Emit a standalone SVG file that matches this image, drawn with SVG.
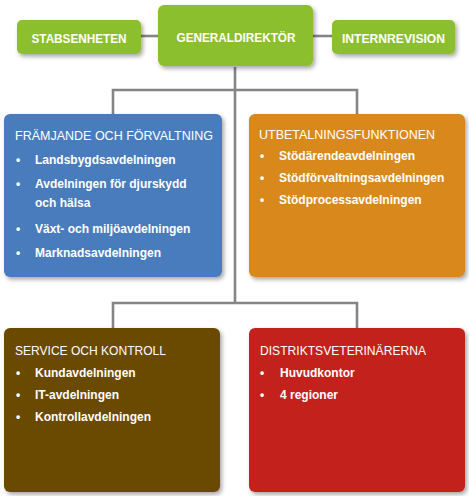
<svg xmlns="http://www.w3.org/2000/svg" width="469" height="496" viewBox="0 0 469 496">
<defs>
<filter id="sh" x="-10%" y="-10%" width="125%" height="130%">
<feDropShadow dx="2" dy="2.5" stdDeviation="2" flood-color="#000" flood-opacity="0.35"/>
</filter>
<style>
.box{filter:url(#sh);}
.lbl{font-family:"Liberation Sans",Arial,sans-serif;font-weight:bold;fill:#fff;font-size:13px;}
.ttl{font-family:"Liberation Sans",Arial,sans-serif;fill:#fff;font-size:13px;}
.itm{font-family:"Liberation Sans",Arial,sans-serif;font-weight:bold;fill:#fff;font-size:12px;}
.con{stroke:#858585;stroke-width:2.6;fill:none;}
</style>
</defs>
<rect width="469" height="496" fill="#fff"/>
<g id="connectors">
<line class="con" x1="141" y1="36" x2="158" y2="36"/>
<line class="con" x1="313" y1="36" x2="332" y2="36"/>
<polyline class="con" points="235,67 235,303"/>
<polyline class="con" points="113,114 113,90 357,90 357,114"/>
<polyline class="con" points="113,328 113,303 357,303 357,328"/>
</g>
<g id="stabsenheten">
<rect class="box" x="17" y="20" width="124" height="34" rx="5" fill="#8cbf2e"/>
<text class="lbl" x="79" y="43" text-anchor="middle" textLength="95" lengthAdjust="spacingAndGlyphs">STABSENHETEN</text>
</g>
<g id="generaldirektor">
<rect class="box" x="158" y="5" width="155" height="61" rx="6" fill="#8cbf2e"/>
<text class="lbl" x="236" y="42" text-anchor="middle" textLength="119" lengthAdjust="spacingAndGlyphs">GENERALDIREKTÖR</text>
</g>
<g id="internrevision">
<rect class="box" x="332" y="20" width="123" height="34" rx="5" fill="#8cbf2e"/>
<text class="lbl" x="393.5" y="43" text-anchor="middle" textLength="103" lengthAdjust="spacingAndGlyphs">INTERNREVISION</text>
</g>
<g id="framjande">
<rect class="box" x="4" y="114" width="218" height="163" rx="6" fill="#4a7bbd"/>
<text class="ttl" x="15" y="140" textLength="198" lengthAdjust="spacingAndGlyphs">FRÄMJANDE OCH FÖRVALTNING</text>
<g class="itm">
<text x="16" y="164">•</text><text x="35" y="164">Landsbygdsavdelningen</text>
<text x="16" y="188">•</text><text x="35" y="188">Avdelningen för djurskydd</text>
<text x="35" y="207">och hälsa</text>
<text x="16" y="233">•</text><text x="35" y="233">Växt- och miljöavdelningen</text>
<text x="16" y="256.5">•</text><text x="35" y="256.5">Marknadsavdelningen</text>
</g>
</g>
<g id="utbetalning">
<rect class="box" x="249" y="114" width="216" height="163" rx="6" fill="#d9891b"/>
<text class="ttl" x="259" y="138.5" textLength="176" lengthAdjust="spacingAndGlyphs">UTBETALNINGSFUNKTIONEN</text>
<g class="itm">
<text x="260" y="160">•</text><text x="279" y="160">Stödärendeavdelningen</text>
<text x="260" y="182">•</text><text x="279" y="182">Stödförvaltningsavdelningen</text>
<text x="260" y="204">•</text><text x="279" y="204">Stödprocessavdelningen</text>
</g>
</g>
<g id="service">
<rect class="box" x="4" y="328" width="216" height="164" rx="6" fill="#6b4806"/>
<text class="ttl" x="15" y="355" textLength="151" lengthAdjust="spacingAndGlyphs">SERVICE OCH KONTROLL</text>
<g class="itm">
<text x="16" y="377">•</text><text x="35" y="377">Kundavdelningen</text>
<text x="16" y="399">•</text><text x="35" y="399">IT-avdelningen</text>
<text x="16" y="420.5">•</text><text x="35" y="420.5">Kontrollavdelningen</text>
</g>
</g>
<g id="distrikt">
<rect class="box" x="249" y="328" width="216" height="164" rx="6" fill="#c3221a"/>
<text class="ttl" x="260" y="355" textLength="166" lengthAdjust="spacingAndGlyphs">DISTRIKTSVETERINÄRERNA</text>
<g class="itm">
<text x="260" y="377">•</text><text x="280" y="377">Huvudkontor</text>
<text x="260" y="399">•</text><text x="280" y="399">4 regioner</text>
</g>
</g>
</svg>
